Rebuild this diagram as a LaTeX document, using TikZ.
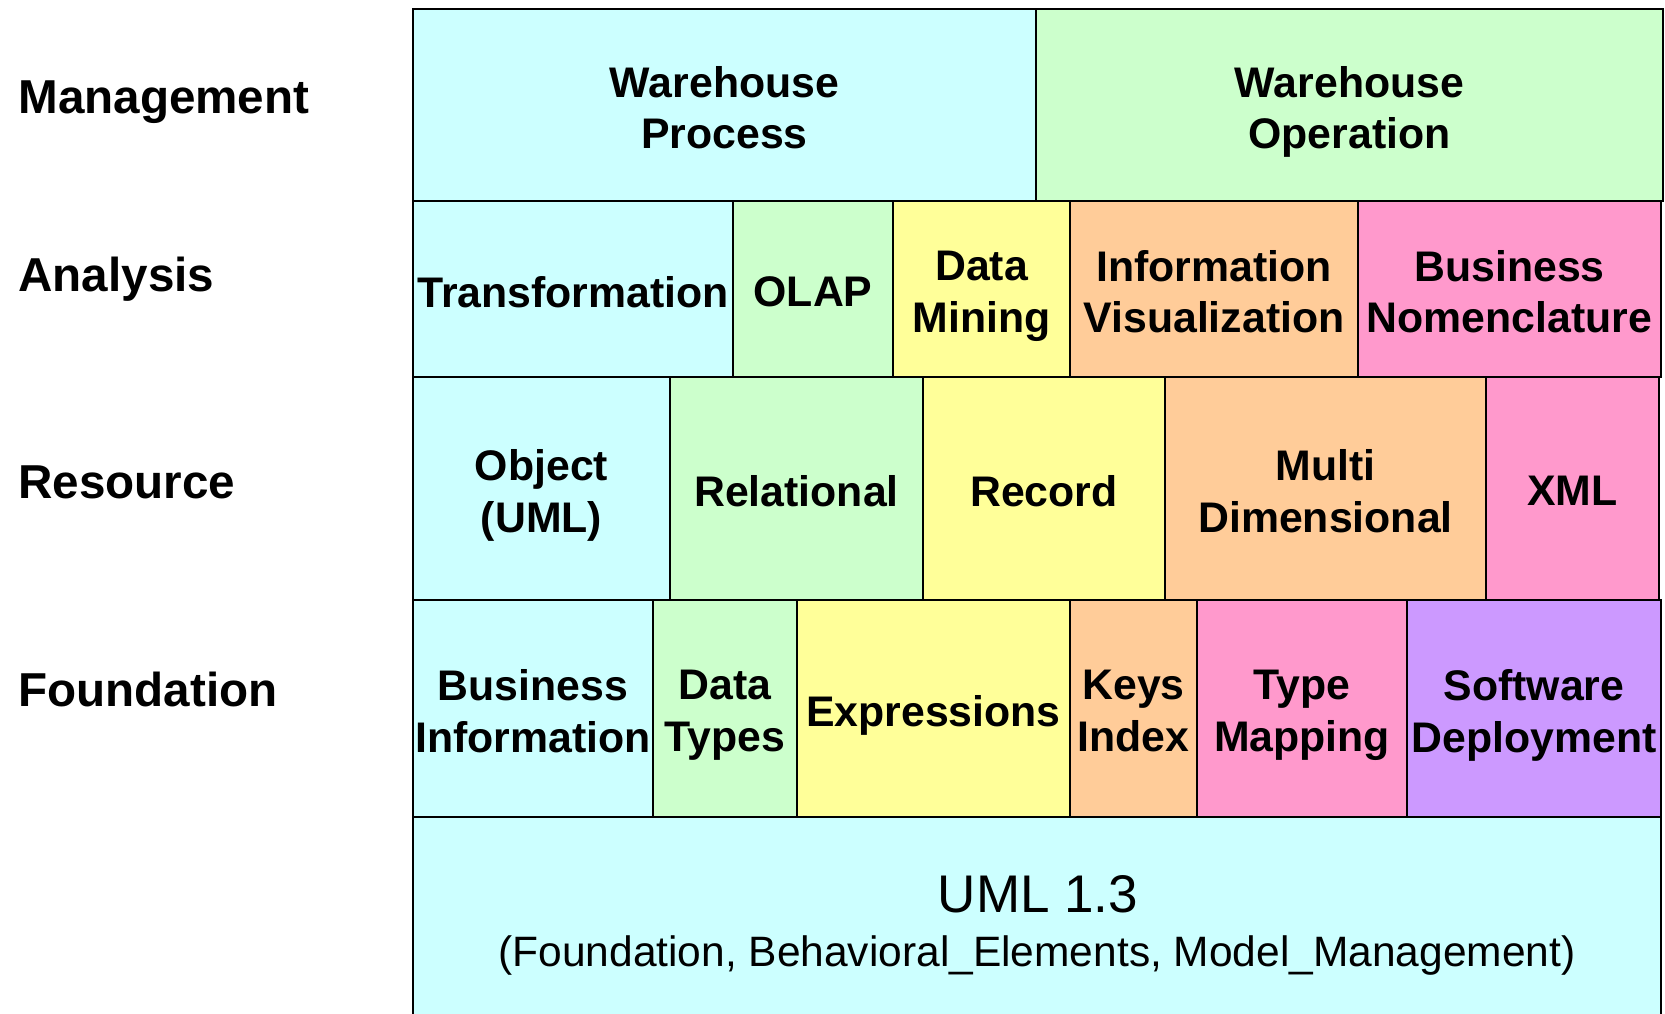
\documentclass[tikz,border=0pt]{standalone}
\usepackage{fontspec}
\setmainfont{Liberation Sans}

\definecolor{boxcyan}{HTML}{CCFFFF}
\definecolor{boxgreen}{HTML}{CCFFCC}
\definecolor{boxyellow}{HTML}{FFFF99}
\definecolor{boxorange}{HTML}{FFCC99}
\definecolor{boxpink}{HTML}{FF99CC}
\definecolor{boxpurple}{HTML}{CC99FF}

% name, left, top, right, bottom, fill, text
\newcommand{\layerbox}[7]{%
\draw[cell, fill=#6] (#2,#3) rectangle (#4,#5);
\node[celltext] (#1) at ({(#2+#4)/2},{(#3+#5)/2+2.5}) {#7};}

\begin{document}
\begin{tikzpicture}[x=0.5pt, y=-0.5pt,
  cell/.style={draw=black, line width=0.8pt},
  celltext/.style={inner sep=0pt, align=center, text depth=0pt,
    font=\fontsize{21.4}{25.8}\selectfont\bfseries},
  layer/.style={anchor=base west, inner sep=0pt, font=\fontsize{23.8}{28}\selectfont\bfseries}]
\useasboundingbox (0,0) rectangle (1665,1013);

\node[layer] (management) at (18,113) {Management};
\node[layer] (analysis) at (18,291) {Analysis};
\node[layer] (resource) at (18,498) {Resource};
\node[layer] (foundation) at (18,706) {Foundation};

% management
\layerbox{process}{413}{9}{1036}{201}{boxcyan}{Warehouse\\Process}
\layerbox{operation}{1036}{9}{1663}{201}{boxgreen}{Warehouse\\Operation}

% analysis
\layerbox{transformation}{413}{201}{733}{377}{boxcyan}{Transformation}
\layerbox{olap}{733}{201}{893}{377}{boxgreen}{OLAP}
\layerbox{mining}{893}{201}{1070}{377}{boxyellow}{Data\\Mining}
\layerbox{visualization}{1070}{201}{1358}{377}{boxorange}{Information\\Visualization}
\layerbox{nomenclature}{1358}{201}{1661}{377}{boxpink}{Business\\Nomenclature}

% resource
\layerbox{object}{413}{377}{670}{600}{boxcyan}{Object\\(UML)}
\layerbox{relational}{670}{377}{923}{600}{boxgreen}{Relational}
\layerbox{record}{923}{377}{1165}{600}{boxyellow}{Record}
\layerbox{multidim}{1165}{377}{1486}{600}{boxorange}{Multi\\Dimensional}
\layerbox{xml}{1486}{377}{1659}{600}{boxpink}{XML}

% foundation
\layerbox{businfo}{413}{600}{653}{817}{boxcyan}{Business\\Information}
\layerbox{datatypes}{653}{600}{797}{817}{boxgreen}{Data\\Types}
\layerbox{expressions}{797}{600}{1070}{817}{boxyellow}{Expressions}
\layerbox{keysindex}{1070}{600}{1197}{817}{boxorange}{Keys\\Index}
\layerbox{typemapping}{1197}{600}{1407}{817}{boxpink}{Type\\Mapping}
\layerbox{deployment}{1407}{600}{1661}{817}{boxpurple}{Software\\Deployment}

% uml base
\draw[cell, fill=boxcyan] (413,817) rectangle (1661,1030);
\node[anchor=base, inner sep=0pt, font=\fontsize{26.5}{30}\selectfont] (umlname) at (1038,912) {UML 1.3};
\node[anchor=base, inner sep=0pt, font=\fontsize{21.25}{25}\selectfont] (umlparts) at (1037,966) {(Foundation, Behavioral\_Elements, Model\_Management)};
\end{tikzpicture}
\end{document}
